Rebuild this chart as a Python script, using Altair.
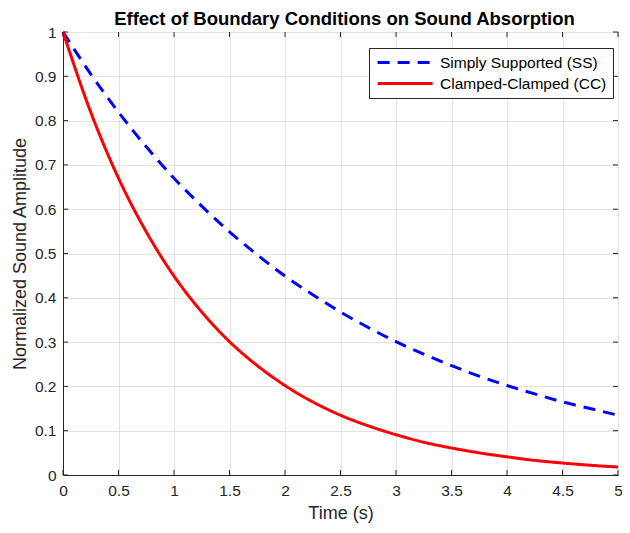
import altair as alt
import pandas as pd

time_s = [0, 0.25, 0.5, 0.75, 1, 1.25, 1.5, 1.75, 2, 2.25, 2.5, 2.75, 3,
          3.25, 3.5, 3.75, 4, 4.25, 4.5, 4.75, 5]
ss_amp = [1.0, 0.905, 0.819, 0.741, 0.670, 0.607, 0.549, 0.497, 0.449, 0.407,
          0.368, 0.333, 0.301, 0.273, 0.247, 0.223, 0.202, 0.183, 0.165, 0.150, 0.135]
cc_amp = [1.0, 0.819, 0.670, 0.549, 0.449, 0.368, 0.301, 0.247, 0.202, 0.165,
          0.135, 0.111, 0.091, 0.074, 0.061, 0.050, 0.041, 0.033, 0.027, 0.022, 0.018]
series_names = ["Simply Supported (SS)", "Clamped-Clamped (CC)"]
x_ticks = [0, 0.5, 1, 1.5, 2, 2.5, 3, 3.5, 4, 4.5, 5]
y_ticks = [0, 0.1, 0.2, 0.3, 0.4, 0.5, 0.6, 0.7, 0.8, 0.9, 1.0]

W, H = 555, 443
FONT = "Liberation Sans"
DARK = "#262626"

rows = []
for t, a in zip(time_s, ss_amp):
    rows.append({"t": t, "amp": a, "series": series_names[0]})
for t, a in zip(time_s, cc_amp):
    rows.append({"t": t, "amp": a, "series": series_names[1]})
df = pd.DataFrame(rows)

xscale = alt.Scale(domain=[0, 5], nice=False, zero=False)
yscale = alt.Scale(domain=[0, 1], nice=False, zero=False)

legend = alt.Legend(title=None, orient="none", legendX=306, legendY=16,
                    fillColor="white", strokeColor=DARK, padding=6,
                    labelFontSize=15.5, labelFont=FONT, labelColor="black",
                    labelLimit=300,
                    symbolType="M-1,0H7", symbolStrokeWidth=3, symbolOffset=1,
                    symbolSize=189, rowPadding=4, labelOffset=47, offset=0)

lines = alt.Chart(df).mark_line(strokeWidth=3, interpolate="monotone").encode(
    x=alt.X("t:Q", scale=xscale,
            axis=alt.Axis(values=x_ticks, format="~g", title="Time (s)", grid=True,
                          ticks=False, labelPadding=8, titlePadding=6,
                          titleFontSize=18, labelFlush=False)),
    y=alt.Y("amp:Q", scale=yscale,
            axis=alt.Axis(values=y_ticks, format="~g", title="Normalized Sound Amplitude",
                          grid=True, ticks=False, labelPadding=7, titlePadding=5,
                          titleFontSize=18, labelFlush=False)),
    color=alt.Color("series:N",
                    scale=alt.Scale(domain=series_names, range=["#0000ff", "#ff0000"]),
                    legend=legend),
    strokeDash=alt.StrokeDash("series:N",
                              scale=alt.Scale(domain=series_names, range=[[12, 8], [1, 0]]),
                              legend=legend),
)

xt = pd.DataFrame({"v": x_ticks})
yt = pd.DataFrame({"v": y_ticks})

xb = alt.Chart(xt).mark_rule(color=DARK, strokeWidth=1).encode(
    x=alt.X("v:Q", scale=xscale), y=alt.value(H), y2=alt.value(H - 5))
xtop = alt.Chart(xt).mark_rule(color=DARK, strokeWidth=1).encode(
    x=alt.X("v:Q", scale=xscale), y=alt.value(0), y2=alt.value(5))
yl = alt.Chart(yt).mark_rule(color=DARK, strokeWidth=1).encode(
    y=alt.Y("v:Q", scale=yscale), x=alt.value(0), x2=alt.value(5))
yr = alt.Chart(yt).mark_rule(color=DARK, strokeWidth=1).encode(
    y=alt.Y("v:Q", scale=yscale), x=alt.value(W), x2=alt.value(W - 5))

chart = alt.layer(lines, xb, xtop, yl, yr).properties(
    width=W, height=H,
    padding={"left": 55, "top": 24, "right": 4, "bottom": 50},
    autosize=alt.AutoSizeParams(type="none"),
    background="white",
    title=alt.Title("Effect of Boundary Conditions on Sound Absorption",
                    font=FONT, fontSize=18.5, fontWeight="bold", color="black",
                    anchor="middle", frame="group", offset=5, dy=8, dx=4),
).configure_view(
    stroke=DARK, strokeWidth=1
).configure_axis(
    domainColor=DARK, gridColor="#e3e3e3", gridWidth=1,
    labelFont=FONT, labelFontSize=15.5, labelColor=DARK,
    titleFont=FONT, titleFontSize=19, titleColor=DARK, titleFontWeight="normal",
)

chart.save("out.html", embed_options={"renderer": "svg", "actions": False})
